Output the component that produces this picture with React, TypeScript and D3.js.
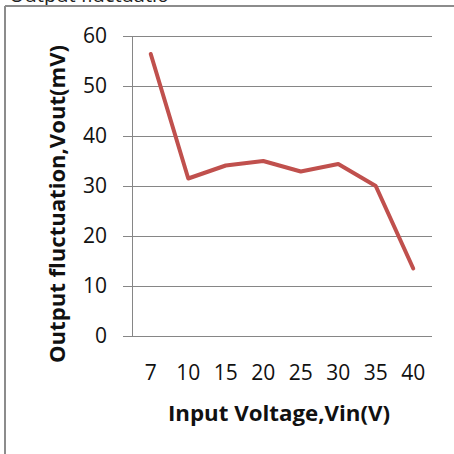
import React from "react";
import * as d3 from "d3";

const categories: string[] = ["7", "10", "15", "20", "25", "30", "35", "40"];
const values: number[] = [56.4, 31.5, 34.1, 35, 32.9, 34.4, 30, 13.5];
const yTicks: number[] = [0, 10, 20, 30, 40, 50, 60];
const xTitle = "Input Voltage,Vin(V)";
const yTitle = "Output fluctuation,Vout(mV)";
const topTitle = "Output fluctuatio";

const W = 454;
const H = 454;
const FONT = "'Open Sans', 'Liberation Sans', sans-serif";

export default function App() {
  const x = d3.scaleBand<string>().domain(categories).range([132, 432]).padding(0);
  const y = d3.scaleLinear().domain([0, 60]).range([336, 36]);
  const line = d3
    .line<number>()
    .x((_, i) => (x(categories[i]) as number) + x.bandwidth() / 2)
    .y((d) => y(d));
  const grid = "#868686";
  return (
    <svg
      width={W}
      height={H}
      style={{ position: "absolute", left: 0, top: 0, background: "#fff" }}
      fontFamily={FONT}
    >
      <rect x={0} y={0} width={W} height={H} fill="#fff" />
      <text x={9} y={2} fontSize={20} fill="#222">{topTitle}</text>
      <line x1={5} y1={6} x2={W} y2={6} stroke="#8c8c8c" strokeWidth={2} />
      <line x1={5} y1={6} x2={5} y2={H} stroke="#8c8c8c" strokeWidth={2} />
      {yTicks.map((t) => (
        <g key={t}>
          <line x1={123} x2={432} y1={Math.round(y(t)) + 0.5} y2={Math.round(y(t)) + 0.5} stroke={grid} strokeWidth={1} />
          <text x={107} y={y(t) + 6.5} textAnchor="end" fontSize={21} fill="#111">
            {t}
          </text>
        </g>
      ))}
      <line x1={132.5} x2={132.5} y1={36} y2={336} stroke={grid} strokeWidth={1} />
      {categories.map((c) => (
        <text
          key={c}
          x={(x(c) as number) + x.bandwidth() / 2}
          y={380}
          textAnchor="middle"
          fontSize={21}
          fill="#111"
        >
          {c}
        </text>
      ))}
      <path d={line(values) || ""} fill="none" stroke="#C0504D" strokeWidth={4} strokeLinejoin="round" strokeLinecap="round" />
      <text x={279} y={421} textAnchor="middle" fontSize={22} fontWeight="bold" fill="#111" textLength={222} lengthAdjust="spacingAndGlyphs">
        {xTitle}
      </text>
      <text
        transform={`translate(65,204) rotate(-90)`}
        textAnchor="middle"
        fontSize={22}
        fontWeight="bold"
        fill="#111"
        textLength={318}
        lengthAdjust="spacingAndGlyphs"
      >
        {yTitle}
      </text>
    </svg>
  );
}
